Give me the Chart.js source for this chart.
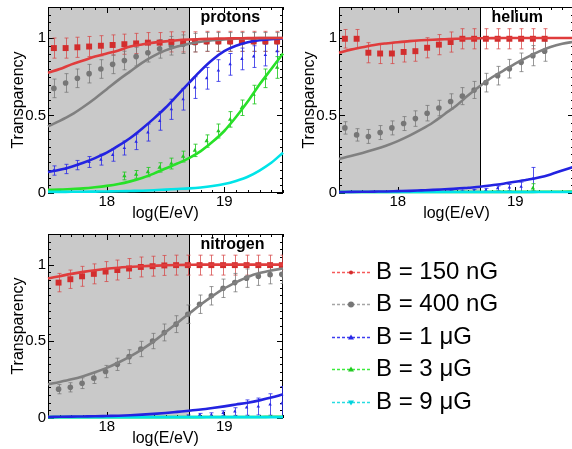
<!DOCTYPE html>
<html>
<head>
<meta charset="utf-8">
<script src="https://cdn.jsdelivr.net/npm/chart.js@4.4.1/dist/chart.umd.min.js"></script>
<style>
  html, body { margin: 0; padding: 0; background: #fff; overflow: hidden; }
  #page { position: relative; width: 572px; height: 449px; overflow: hidden;
          font-family: "Liberation Sans", Arial, Helvetica, sans-serif; }
  #page canvas { position: absolute; }
  .leg { position: absolute; left: 376px; font-size: 24px; line-height: 24px; color: #000; white-space: nowrap; }
</style>
</head>
<body>
<div id="page">
  <canvas id="cProtons" width="290" height="225" style="left:0;top:0"></canvas>
  <canvas id="cHelium" width="290" height="225" style="left:291px;top:0"></canvas>
  <canvas id="cNitrogen" width="290" height="225" style="left:0;top:225px"></canvas>
  <canvas id="cLegend" width="55" height="170" style="left:325px;top:250px"></canvas>
</div>
<script>
// energy grid of the fitted curves and the bin centres of the points
const fitE  = [17.5, 17.6, 17.7, 17.8, 17.9, 18.0, 18.1, 18.2, 18.3, 18.4, 18.5, 18.6, 18.7, 18.8, 18.9, 19.0, 19.1, 19.2, 19.3, 19.4, 19.5];
const binsA = [17.55, 17.65, 17.75, 17.85, 17.95, 18.05, 18.15, 18.25, 18.35, 18.45, 18.55, 18.65, 18.75, 18.85, 18.95, 19.05, 19.15, 19.25, 19.35, 19.45];
const binsN = [17.59, 17.69, 17.79, 17.89, 17.99, 18.09, 18.19, 18.29, 18.39, 18.49, 18.59, 18.69, 18.79, 18.89, 18.99, 19.09, 19.19, 19.29, 19.39, 19.49];
const tickE = [18, 19];
const tickT = [0, 0.5, 1];
const shadeEnd = 18.7;
const seriesLabels = ['B = 150 nG', 'B = 400 nG', 'B = 1 \u03bcG', 'B = 3 \u03bcG', 'B = 9 \u03bcG'];

// protons
const protonRedFit   = [0.775, 0.80, 0.83, 0.855, 0.88, 0.90, 0.92, 0.945, 0.958, 0.97, 0.978, 0.985, 0.99, 0.993, 0.995, 0.997, 0.998, 0.999, 1, 1, 1];
const protonGrayFit  = [0.43, 0.465, 0.505, 0.555, 0.61, 0.67, 0.73, 0.785, 0.84, 0.885, 0.92, 0.945, 0.963, 0.976, 0.985, 0.991, 0.995, 0.997, 0.999, 1, 1];
const protonBlueFit  = [0.135, 0.15, 0.17, 0.195, 0.225, 0.26, 0.305, 0.355, 0.415, 0.48, 0.55, 0.63, 0.71, 0.79, 0.86, 0.915, 0.95, 0.972, 0.985, 0.993, 0.997];
const protonGreenFit = [0.02, 0.022, 0.026, 0.03, 0.037, 0.046, 0.058, 0.075, 0.097, 0.125, 0.158, 0.19, 0.225, 0.27, 0.33, 0.40, 0.49, 0.59, 0.70, 0.80, 0.90];
const protonCyanFit  = [0.007, 0.007, 0.008, 0.008, 0.009, 0.01, 0.011, 0.013, 0.015, 0.018, 0.022, 0.026, 0.03, 0.036, 0.045, 0.058, 0.078, 0.105, 0.145, 0.195, 0.26];
const protonRed      = [0.935, 0.935, 0.94, 0.945, 0.95, 0.955, 0.96, 0.965, 0.97, 0.97, 0.975, 0.975, 0.975, 0.978, 0.978, 0.978, 0.978, 0.978, 0.978, 0.978];
const protonRedErr   = [0.065, 0.065, 0.065, 0.065, 0.065, 0.065, 0.065, 0.065, 0.065, 0.065, 0.065, 0.065, 0.065, 0.065, 0.065, 0.065, 0.065, 0.065, 0.065, 0.065];
const protonGray     = [0.675, 0.71, 0.74, 0.77, 0.80, 0.83, 0.855, 0.88, 0.905, 0.93, 0.95, 0.96, 0.97, 0.975, 0.975, 0.975, 0.975, 0.975, 0.975, 0.975];
const protonGrayErr  = [0.06, 0.06, 0.06, 0.06, 0.06, 0.06, 0.06, 0.06, 0.06, 0.06, 0.06, 0.06, 0.06, 0.06, 0.06, 0.06, 0.06, 0.06, 0.06, 0.06];
const protonBlue     = [0.145, 0.155, 0.18, 0.2, 0.215, 0.245, 0.29, 0.33, 0.39, 0.465, 0.54, 0.605, 0.68, 0.74, 0.79, 0.83, 0.865, 0.88, 0.89, 0.915];
const protonBlueErr  = [0.03, 0.03, 0.03, 0.035, 0.035, 0.04, 0.045, 0.05, 0.055, 0.06, 0.065, 0.07, 0.07, 0.07, 0.07, 0.07, 0.07, 0.07, 0.07, 0.07];
const protonGreen    = [null, null, null, null, null, null, 0.11, 0.12, 0.135, 0.165, 0.19, 0.235, 0.275, 0.335, 0.40, 0.475, 0.55, 0.635, 0.74, 0.81];
const protonGreenErr = [null, null, null, null, null, null, 0.025, 0.025, 0.03, 0.03, 0.035, 0.035, 0.04, 0.04, 0.045, 0.05, 0.05, 0.06, 0.06, 0.07];

// helium
const heliumRedFit   = [0.905, 0.925, 0.94, 0.955, 0.965, 0.973, 0.98, 0.985, 0.989, 0.992, 0.995, 0.997, 0.998, 0.999, 1, 1, 1, 1, 1, 1, 1];
const heliumGrayFit  = [0.22, 0.238, 0.258, 0.28, 0.305, 0.335, 0.37, 0.41, 0.455, 0.51, 0.565, 0.63, 0.69, 0.745, 0.79, 0.835, 0.875, 0.912, 0.942, 0.963, 0.976];
const heliumBlueFit  = [0.006, 0.007, 0.008, 0.009, 0.01, 0.012, 0.014, 0.017, 0.02, 0.024, 0.028, 0.034, 0.04, 0.05, 0.06, 0.072, 0.085, 0.10, 0.12, 0.145, 0.17];
const heliumGreenFit = [0.006, 0.006, 0.006, 0.006, 0.006, 0.006, 0.006, 0.006, 0.006, 0.006, 0.006, 0.006, 0.006, 0.007, 0.007, 0.007, 0.007, 0.008, 0.008, 0.008, 0.009];
const heliumCyanFit  = [0.006, 0.006, 0.006, 0.006, 0.006, 0.006, 0.006, 0.006, 0.006, 0.006, 0.006, 0.006, 0.006, 0.006, 0.006, 0.006, 0.006, 0.006, 0.006, 0.006, 0.006];
const heliumRed      = [0.995, 0.995, 0.905, 0.90, 0.90, 0.91, 0.915, 0.937, 0.957, 0.974, 0.995, 0.995, 0.995, 0.995, 0.995, 0.995, 0.995, 0.995];
const heliumRedErr   = [0.06, 0.06, 0.065, 0.065, 0.065, 0.065, 0.065, 0.065, 0.065, 0.065, 0.065, 0.065, 0.065, 0.065, 0.065, 0.065, 0.065, 0.065];
const heliumGray     = [0.42, 0.375, 0.365, 0.39, 0.42, 0.448, 0.48, 0.515, 0.548, 0.59, 0.625, 0.665, 0.712, 0.757, 0.802, 0.843, 0.886, 0.915];
const heliumGrayErr  = [0.04, 0.04, 0.045, 0.045, 0.045, 0.045, 0.05, 0.05, 0.05, 0.05, 0.055, 0.055, 0.06, 0.06, 0.06, 0.06, 0.065, 0.065];
const heliumBlue     = [null, null, null, null, null, null, null, null, 0.008, 0.01, 0.012, 0.015, 0.02, 0.03, 0.035, 0.04, 0.09];
const heliumBlueErr  = [null, null, null, null, null, null, null, null, 0.004, 0.005, 0.006, 0.008, 0.01, 0.015, 0.02, 0.03, 0.075];
const heliumGreen    = [null, null, null, null, null, null, null, null, null, null, null, null, null, null, null, null, 0.03];
const heliumGreenErr = [null, null, null, null, null, null, null, null, null, null, null, null, null, null, null, null, 0.03];

// nitrogen
const nitrogenRedFit   = [0.91, 0.925, 0.94, 0.953, 0.964, 0.973, 0.98, 0.986, 0.99, 0.993, 0.996, 0.998, 0.999, 1, 1, 1, 1, 1, 1, 1, 1];
const nitrogenGrayFit  = [0.22, 0.235, 0.252, 0.273, 0.298, 0.327, 0.362, 0.402, 0.448, 0.50, 0.56, 0.62, 0.68, 0.74, 0.795, 0.845, 0.885, 0.92, 0.945, 0.962, 0.975];
const nitrogenBlueFit  = [0.007, 0.008, 0.009, 0.01, 0.011, 0.013, 0.015, 0.018, 0.022, 0.027, 0.033, 0.04, 0.047, 0.055, 0.065, 0.076, 0.088, 0.10, 0.115, 0.133, 0.155];
const nitrogenGreenFit = [0.006, 0.006, 0.006, 0.006, 0.006, 0.006, 0.006, 0.006, 0.006, 0.006, 0.006, 0.006, 0.006, 0.006, 0.007, 0.007, 0.007, 0.007, 0.007, 0.008, 0.008];
const nitrogenCyanFit  = [0.006, 0.006, 0.006, 0.006, 0.006, 0.006, 0.006, 0.006, 0.006, 0.006, 0.006, 0.006, 0.006, 0.006, 0.006, 0.006, 0.006, 0.006, 0.006, 0.006, 0.006];
const nitrogenRed      = [0.883, 0.905, 0.924, 0.94, 0.955, 0.965, 0.975, 0.985, 0.99, 0.995, 0.997, 0.997, 0.997, 0.997, 0.997, 0.997, 0.997, 0.997, 0.997, 0.997];
const nitrogenRedErr   = [0.06, 0.06, 0.065, 0.065, 0.065, 0.065, 0.065, 0.065, 0.065, 0.065, 0.065, 0.065, 0.065, 0.065, 0.065, 0.065, 0.065, 0.065, 0.065, 0.065];
const nitrogenGray     = [0.188, 0.2, 0.227, 0.26, 0.303, 0.35, 0.40, 0.45, 0.502, 0.558, 0.612, 0.677, 0.742, 0.797, 0.846, 0.883, 0.912, 0.925, 0.935, 0.937];
const nitrogenGrayErr  = [0.03, 0.03, 0.035, 0.035, 0.04, 0.04, 0.045, 0.05, 0.05, 0.055, 0.055, 0.06, 0.06, 0.06, 0.06, 0.06, 0.06, 0.06, 0.06, 0.06];
const nitrogenBlue     = [null, null, null, null, null, null, null, null, null, null, null, 0.012, 0.02, 0.022, 0.032, 0.042, 0.068, 0.075, 0.088, 0.095];
const nitrogenBlueErr  = [null, null, null, null, null, null, null, null, null, null, null, 0.008, 0.01, 0.012, 0.015, 0.025, 0.05, 0.055, 0.07, 0.11];

const family = '"Liberation Sans", Arial, Helvetica, sans-serif';

// one entry per B value: curve colour, marker colour, error bar colour, marker
const look = [
  { line: 'rgb(224,60,60)',  mark: 'rgb(210,45,45)',   err: 'rgba(214,70,70,0.75)',  style: 'rect',     r: 4.2, rot: 0 },
  { line: 'rgb(128,128,128)', mark: 'rgb(118,118,118)', err: 'rgba(118,118,118,0.75)', style: 'circle',   r: 2.8, rot: 0 },
  { line: 'rgb(35,35,225)',  mark: 'rgb(40,40,230)',   err: 'rgba(40,40,230,0.8)',   style: 'triangle', r: 2,   rot: 0 },
  { line: 'rgb(40,225,40)',  mark: 'rgb(35,200,35)',   err: 'rgba(35,200,35,0.85)',  style: 'triangle', r: 2.5, rot: 0 },
  { line: 'rgb(0,228,232)',  mark: 'rgb(0,210,220)',   err: 'rgba(0,210,220,0.8)',   style: 'triangle', r: 2.5, rot: 180 }
];
// stacking of the fitted curves, first one on top
const fitLayer = [0, 1, 2, 4, 3];

function points(xs, ys, es) {
  const out = [];
  ys.forEach((y, i) => { if (y !== null) out.push({ x: xs[i], y: y, e: es[i] }); });
  return out;
}
function fitLine(ys) { return ys.map((y, i) => ({ x: fitE[i], y: y })); }

// shading, frame, inward ticks and error bars under the curves; panel name on top
const decor = {
  id: 'decor',
  beforeDatasetsDraw(chart) {
    const { ctx, chartArea: a, scales: { x, y } } = chart;
    ctx.save();
    ctx.fillStyle = '#c9c9c9';
    ctx.fillRect(a.left, a.top, x.getPixelForValue(shadeEnd) - a.left, a.bottom - a.top);

    ctx.strokeStyle = '#000';
    ctx.lineWidth = 1;
    const xs = Math.round(x.getPixelForValue(shadeEnd)) + 0.5;
    ctx.beginPath();
    ctx.moveTo(xs, a.top); ctx.lineTo(xs, a.bottom);
    ctx.stroke();
    ctx.strokeRect(Math.round(a.left) + 0.5, Math.round(a.top) + 0.5, Math.round(a.right - a.left) - 1, Math.round(a.bottom - a.top) - 1);
    ctx.beginPath();
    for (let k = 0; k <= 20; k++) {
      const px = Math.round(x.getPixelForValue(17.5 + k * 0.1)) + 0.5;
      const len = (k === 5 || k === 15) ? 6 : 3;
      ctx.moveTo(px, a.bottom); ctx.lineTo(px, a.bottom - len);
      ctx.moveTo(px, a.top); ctx.lineTo(px, a.top + len);
    }
    for (let k = 0; k <= 24; k++) {
      const py = Math.round(y.getPixelForValue(k * 0.05)) + 0.5;
      const len = (k % 10 === 0) ? 6 : 3;
      ctx.moveTo(a.left, py); ctx.lineTo(a.left + len, py);
      ctx.moveTo(a.right, py); ctx.lineTo(a.right - len, py);
    }
    ctx.stroke();

    ctx.beginPath();
    ctx.rect(a.left, a.top, a.right - a.left, a.bottom - a.top);
    ctx.clip();
    chart.data.datasets.forEach(ds => {
      if (!ds.errColor) return;
      ctx.strokeStyle = ds.errColor;
      ctx.lineWidth = 1;
      ds.data.forEach(d => {
        const px = Math.round(x.getPixelForValue(d.x)) + 0.5;
        const lo = y.getPixelForValue(d.y - d.e), hi = y.getPixelForValue(d.y + d.e);
        ctx.beginPath();
        ctx.moveTo(px, lo); ctx.lineTo(px, hi);
        ctx.moveTo(px - 2, lo); ctx.lineTo(px + 2, lo);
        ctx.moveTo(px - 2, hi); ctx.lineTo(px + 2, hi);
        ctx.stroke();
      });
    });
    ctx.restore();
  },
  afterDraw(chart, args, opts) {
    const { ctx, chartArea: a, scales: { x } } = chart;
    ctx.save();
    ctx.fillStyle = '#000';
    ctx.font = 'bold 16px ' + family;
    ctx.textBaseline = 'middle';
    ctx.textAlign = 'left';
    ctx.fillText(opts.name, Math.round(x.getPixelForValue(shadeEnd)) + 11.5, a.top + 10.5);
    ctx.restore();
  }
};

function makePanel(id, name, padTop, bins, fits, marks) {
  const datasets = [];
  fitLayer.forEach(s => {
    datasets.push({
      data: fitLine(fits[s]), borderColor: look[s].line, borderWidth: 2.6,
      pointRadius: 0, tension: 0.4, cubicInterpolationMode: 'monotone', clip: false, order: 0
    });
  });
  marks.forEach(m => {
    const lk = look[m.s];
    datasets.push({
      data: points(bins, m.y, m.e), showLine: false, order: 1,
      pointStyle: lk.style, pointRadius: lk.r, pointRotation: lk.rot,
      pointBackgroundColor: lk.mark, pointBorderColor: lk.mark, pointBorderWidth: 0,
      errColor: lk.err
    });
  });
  return new Chart(document.getElementById(id), {
    type: 'line',
    data: { datasets: datasets },
    options: {
      responsive: false,
      animation: false,
      devicePixelRatio: 1,
      layout: { padding: { top: padTop, right: 7, left: 0, bottom: 0 } },
      plugins: { legend: { display: false }, tooltip: { enabled: false }, decor: { name: name } },
      scales: {
        x: {
          type: 'linear', min: 17.5, max: 19.5,
          grid: { display: false, drawTicks: false }, border: { display: false },
          afterBuildTicks: s => { s.ticks = tickE.map(v => ({ value: v })); },
          afterFit: s => { s.height = 32; s.paddingLeft = 0; s.paddingRight = 0; },
          ticks: { font: { size: 15, family: family }, color: '#000', padding: 0, maxRotation: 0, autoSkip: false,
                   callback: v => String(v) },
          title: { display: true, text: 'log(E/eV)', color: '#000', font: { size: 16, family: family },
                   padding: { top: 0, bottom: 2 } }
        },
        y: {
          type: 'linear', min: 0, max: 1.2,
          grid: { display: false, drawTicks: false }, border: { display: false },
          afterBuildTicks: s => { s.ticks = tickT.map(v => ({ value: v })); },
          afterFit: s => { s.width = 48; s.paddingTop = 0; s.paddingBottom = 0; },
          ticks: { font: { size: 15, family: family }, color: '#000', padding: 2, autoSkip: false,
                   callback: v => String(v) },
          title: { display: true, text: 'Transparency', color: '#000', font: { size: 16, family: family },
                   padding: { top: 9, bottom: 0 } }
        }
      }
    },
    plugins: [decor]
  });
}

makePanel('cProtons', 'protons', 7, binsA,
  [protonRedFit, protonGrayFit, protonBlueFit, protonGreenFit, protonCyanFit],
  [{ s: 0, y: protonRed, e: protonRedErr }, { s: 1, y: protonGray, e: protonGrayErr },
   { s: 2, y: protonBlue, e: protonBlueErr }, { s: 3, y: protonGreen, e: protonGreenErr }]);

makePanel('cHelium', 'helium', 7, binsA,
  [heliumRedFit, heliumGrayFit, heliumBlueFit, heliumGreenFit, heliumCyanFit],
  [{ s: 0, y: heliumRed, e: heliumRedErr }, { s: 1, y: heliumGray, e: heliumGrayErr },
   { s: 2, y: heliumBlue, e: heliumBlueErr }, { s: 3, y: heliumGreen, e: heliumGreenErr }]);

makePanel('cNitrogen', 'nitrogen', 9, binsN,
  [nitrogenRedFit, nitrogenGrayFit, nitrogenBlueFit, nitrogenGreenFit, nitrogenCyanFit],
  [{ s: 0, y: nitrogenRed, e: nitrogenRedErr }, { s: 1, y: nitrogenGray, e: nitrogenGrayErr },
   { s: 2, y: nitrogenBlue, e: nitrogenBlueErr }]);

// legend: dashed samples with a marker, labels as text
const lg = document.getElementById('cLegend').getContext('2d');
const legendDash = ['rgb(245,90,90)', 'rgb(165,165,165)', 'rgb(60,60,240)', 'rgb(60,235,60)', 'rgb(40,220,225)'];
seriesLabels.forEach((label, i) => {
  const cy = Math.round(21.7 + 32.5 * i) + 0.5;
  lg.strokeStyle = legendDash[i];
  lg.lineWidth = 1.3;
  lg.setLineDash([3, 2]);
  lg.beginPath(); lg.moveTo(7, cy); lg.lineTo(45, cy); lg.stroke();
  lg.setLineDash([]);
  lg.fillStyle = look[i].mark;
  lg.beginPath();
  if (i === 0) lg.arc(26, cy, 2, 0, Math.PI * 2);
  else if (i === 1) lg.arc(26, cy, 3, 0, Math.PI * 2);
  else if (i === 4) { lg.moveTo(23, cy - 2); lg.lineTo(29, cy - 2); lg.lineTo(26, cy + 3); }
  else { lg.moveTo(23, cy + 2); lg.lineTo(29, cy + 2); lg.lineTo(26, cy - 3); }
  lg.fill();
  const span = document.createElement('div');
  span.className = 'leg';
  span.style.top = (258.8 + 32.5 * i) + 'px';
  span.textContent = label;
  document.getElementById('page').appendChild(span);
});
</script>
</body>
</html>
